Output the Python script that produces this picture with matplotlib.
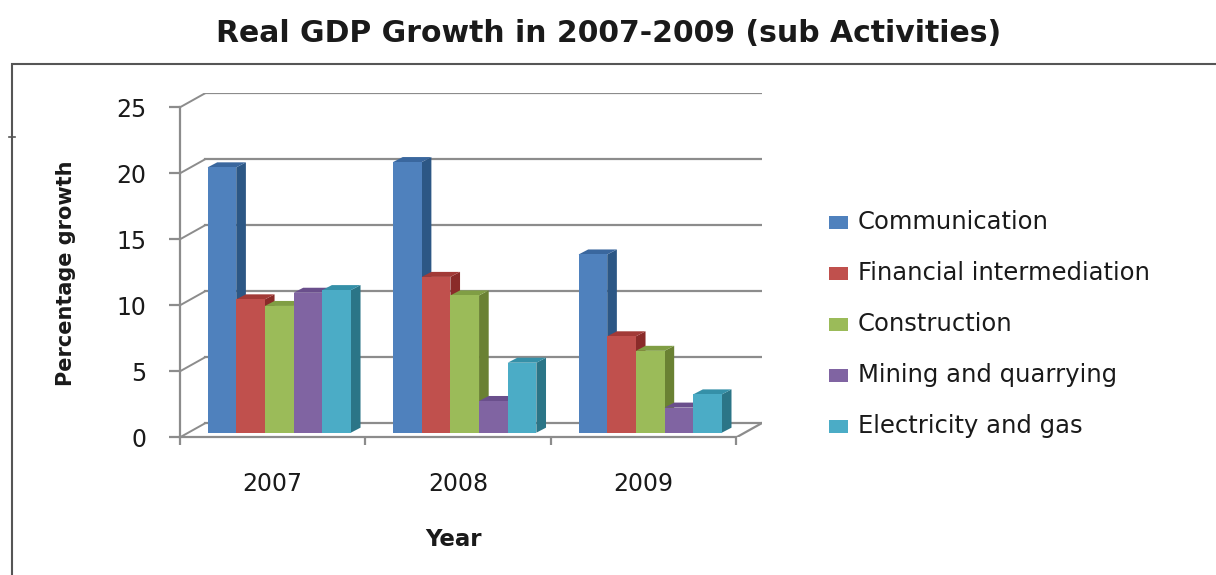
import matplotlib
matplotlib.use('Agg')
import matplotlib.pyplot as plt
from matplotlib.patches import Polygon, Rectangle
from matplotlib.lines import Line2D

years = ['2007', '2008', '2009']
sectors = ['Communication', 'Financial intermediation', 'Construction',
           'Mining and quarrying', 'Electricity and gas']
communication = [20.1, 20.5, 13.5]
financial = [10.1, 11.8, 7.3]
construction = [9.6, 10.4, 6.2]
mining = [10.6, 2.4, 1.9]
electricity = [10.8, 5.3, 2.9]
series = [communication, financial, construction, mining, electricity]

# front / side / top shades of the 3d columns
front_c = ['#4F81BD', '#C0504D', '#9BBB59', '#8064A2', '#4BACC6']
side_c = ['#2C5785', '#8A2B29', '#6A8133', '#5B4478', '#2B7587']
top_c = ['#3A679E', '#A23A37', '#809E44', '#6A4F8C', '#3590A8']
grid_c = '#8C8C8C'
text_c = '#1A1A1A'

plt.rcParams['font.family'] = ['DejaVu Sans']

W, H = 1216, 575
fig = plt.figure(figsize=(W / 100, H / 100), dpi=100)

# plot box in pixels (front plane starts at x0, back wall ends at x1)
x0, x1 = 180, 761.5
y0, y1 = 437.3, 93.3
ax = fig.add_axes([x0 / W, 1 - y0 / H, (x1 - x0) / W, (y0 - y1) / H])

dx, dy = 0.135, 1.06          # depth of the floor / walls
ax.set_xlim(-0.5, 2.5 + dx)
ax.set_ylim(0, 25 + dy)
ax.patch.set_alpha(0)

# back wall grid + side wall diagonals
for v in range(0, 26, 5):
    ax.plot([-0.5 + dx, 2.5 + dx], [v + dy, v + dy], color=grid_c, lw=1.6, zorder=1)
    ax.plot([-0.5, -0.5 + dx], [v, v + dy], color=grid_c, lw=1.4, zorder=1)
ax.plot([2.5, 2.5 + dx], [0, dy], color=grid_c, lw=1.6, zorder=1)

# columns
bw = 0.1545           # column width
fx, fy = 0.035, 0.35  # offset of the column front face from the front plane
sx, sy = 0.052, 0.38  # column depth
k = 0
for c in range(len(years)):
    for i, vals in enumerate(series):
        v = vals[c]
        left = c + fx - 2.5 * bw + i * bw
        z = 3 + k * 3
        side = Polygon([(left + bw, fy), (left + bw + sx, fy + sy),
                        (left + bw + sx, fy + v + sy), (left + bw, fy + v)],
                       closed=True, fc=side_c[i], ec='none', zorder=z)
        top = Polygon([(left, fy + v), (left + sx, fy + v + sy),
                       (left + bw + sx, fy + v + sy), (left + bw, fy + v)],
                      closed=True, fc=top_c[i], ec='none', zorder=z + 1)
        ax.add_patch(side)
        ax.add_patch(top)
        ax.bar(left, v, width=bw, bottom=fy, align='edge', color=front_c[i],
               edgecolor='none', zorder=z + 2)
        k += 1

# axes lines and ticks
for s in ['top', 'right']:
    ax.spines[s].set_visible(False)
ax.spines['left'].set_bounds(0, 25)
ax.spines['bottom'].set_bounds(-0.5, 2.5)
for s in ['left', 'bottom']:
    ax.spines[s].set_color(grid_c)
    ax.spines[s].set_linewidth(1.6)

ax.set_yticks(range(0, 26, 5))
ax.tick_params(axis='y', length=8, width=1.6, color=grid_c, pad=16,
               labelsize=17, labelcolor=text_c)
ax.set_xticks([-0.5, 0.5, 1.5, 2.5])
ax.set_xticklabels([])
ax.tick_params(axis='x', which='major', length=6, width=1.6, color=grid_c)
ax.set_xticks([0, 1, 2], minor=True)
ax.set_xticklabels(years, minor=True)
ax.tick_params(axis='x', which='minor', length=0, pad=25, labelsize=17,
               labelcolor=text_c)

# titles
fig.text(609 / W, 1 - 33 / H, 'Real GDP Growth in 2007-2009 (sub Activities)',
         ha='center', va='center', fontsize=21.5, fontweight='bold', color=text_c)
fig.text(453 / W, 1 - 539 / H, 'Year', ha='center', va='center',
         fontsize=16.5, fontweight='bold', color=text_c)
fig.text(66 / W, 1 - 273 / H, 'Percentage growth', ha='center', va='center',
         rotation=90, fontsize=15, fontweight='bold', color=text_c)

# legend: colour key + label per row
row0, pitch = 222, 51
for i, name in enumerate(sectors):
    yc = row0 + pitch * i
    fig.patches.append(Rectangle((829 / W, 1 - (yc + 6.5) / H), 19 / W, 13 / H,
                                 transform=fig.transFigure, fc=front_c[i], ec='none'))
    fig.text(858 / W, 1 - yc / H, name, ha='left', va='center',
             fontsize=17.5, color=text_c)

# chart area border
fig.patches.append(Rectangle((12 / W, -0.1), 1.2, 1 - 64 / H + 0.1,
                             transform=fig.transFigure, fill=False,
                             ec='#555555', lw=1.5))
fig.lines.append(Line2D([9 / W, 15 / W], [1 - 137 / H, 1 - 137 / H],
                        transform=fig.transFigure, color='#555555', lw=1.2))

fig.savefig('out.png', dpi=100)
